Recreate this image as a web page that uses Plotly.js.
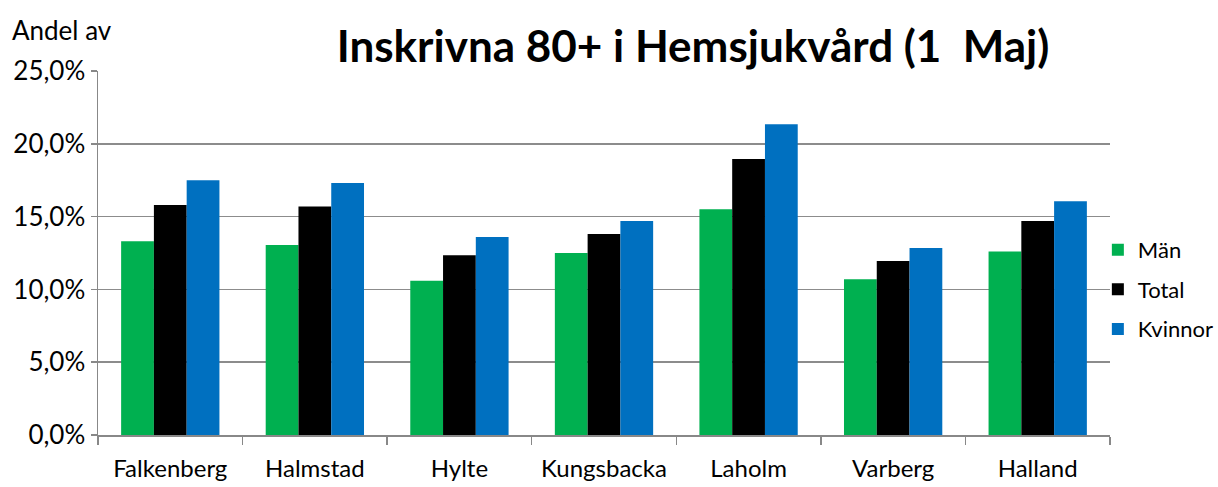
<!DOCTYPE html>
<html><head><meta charset="utf-8">
<script src="https://cdn.plot.ly/plotly-3.0.1.min.js"></script>
<style>body{margin:0;background:#fff}#c{width:1218px;height:487px}</style>
</head><body><div id="c"></div>
<script>
const categories = ["Falkenberg","Halmstad","Hylte","Kungsbacka","Laholm","Varberg","Halland"];
const man     = [13.3, 13.05, 10.6, 12.5, 15.5, 10.7, 12.6];
const total   = [15.8, 15.7, 12.35, 13.8, 18.95, 11.95, 14.7];
const kvinnor = [17.5, 17.3, 13.6, 14.7, 21.35, 12.85, 16.05];
const seriesNames = ["Män","Total","Kvinnor"];
const colors = ["#00B050","#000000","#0070C0"];
const yTicks = [0,5,10,15,20,25];

const font = "Lato, 'Open Sans', sans-serif";
const data = [man,total,kvinnor].map((v,i)=>({
  type:"bar", x:categories, y:v, name:seriesNames[i], legendgroup:"g"+i,
  marker:{color:colors[i]}, hoverinfo:"skip"
}));
const layout = {
  width:1218, height:487,
  margin:{l:98,r:108,t:71,b:52,autoexpand:false},
  paper_bgcolor:"#fff", plot_bgcolor:"#fff",
  barmode:"group", bargap:0.32, bargroupgap:0,
  separators:",.",
  font:{family:font, color:"#000", size:20},
  title:{text:"<b>Inskrivna 80+ i Hemsjukvård (1  Maj)</b>", font:{family:font,size:44,color:"#000"},
    x:0.588, xanchor:"center", y:0.905, yanchor:"middle", xref:"paper"},
  xaxis:{type:"category", tickson:"boundaries", ticks:"outside", ticklen:8, tickcolor:"#888", tickwidth:1.5,
    showline:true, linecolor:"#888", linewidth:1.5, showgrid:false, ticklabelstandoff:12, tickangle:0,
    tickfont:{family:font,size:24,color:"#000"}, fixedrange:true},
  yaxis:{range:[0,25], tickvals:yTicks, ticktext:yTicks.map(v=>v.toFixed(1).replace(".",",")+"%"),
    ticks:"outside", ticklen:6, tickcolor:"#888", tickwidth:1.5,
    showline:true, linecolor:"#888", linewidth:1.5,
    showgrid:true, gridcolor:"#8c8c8c", gridwidth:1.5, zeroline:false,
    tickfont:{family:font,size:26,color:"#000"}, fixedrange:true},
  legend:{x:0.988, xanchor:"left", y:0.4, yanchor:"middle", traceorder:"grouped", tracegroupgap:8,
    font:{family:font,size:22,color:"#000"}, bgcolor:"rgba(0,0,0,0)", itemwidth:30},
  annotations:[{text:"Andel av", xref:"paper", yref:"paper", x:-0.087, y:1.113, xanchor:"left", yanchor:"middle",
    showarrow:false, font:{family:font,size:26,color:"#000"}}]
};
Plotly.newPlot("c", data, layout, {displayModeBar:false, staticPlot:true});
</script></body></html>
